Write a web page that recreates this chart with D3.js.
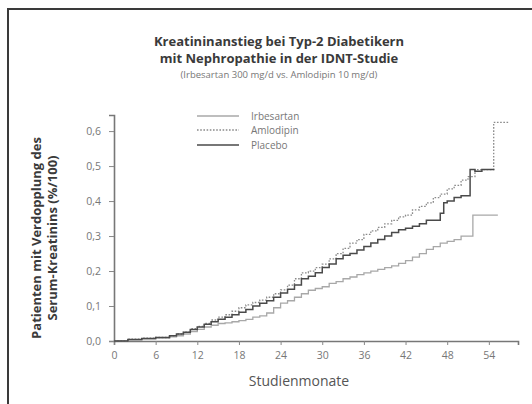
<!DOCTYPE html>
<html>
<head>
<meta charset="utf-8">
<script src="https://cdn.jsdelivr.net/npm/d3@7"></script>
<style>
    body {margin: 0; background: #fff;}
    text {font-family: "Open Sans", "Noto Sans", sans-serif;}
</style>
</head>
<body>
<div id="chart"></div>
<script>
// step curves: month -> share of patients (%/100)
const irbMonths = [0, 2, 4, 6, 8, 9, 10, 11, 12, 13, 14, 15, 16, 17, 18, 19, 20, 21, 22, 23, 24, 25, 26, 27, 28, 29, 30, 31, 32, 33, 34, 35, 36, 37, 38, 39, 40, 41, 42, 43, 44, 45, 46, 47, 48, 49, 50, 51.7, 55.3];
const irbValues = [0, 0.003, 0.006, 0.009, 0.012, 0.015, 0.02, 0.027, 0.033, 0.04, 0.045, 0.05, 0.052, 0.055, 0.058, 0.062, 0.068, 0.072, 0.08, 0.095, 0.108, 0.115, 0.125, 0.135, 0.145, 0.15, 0.155, 0.165, 0.17, 0.178, 0.183, 0.19, 0.195, 0.2, 0.205, 0.21, 0.215, 0.222, 0.23, 0.24, 0.25, 0.262, 0.27, 0.28, 0.285, 0.29, 0.3, 0.36, 0.36];

const amlMonths = [0, 2, 4, 6, 8, 9, 10, 11, 12, 13, 14, 15, 16, 17, 18, 19, 20, 21, 22, 23, 24, 25, 26, 27, 28, 29, 30, 31, 32, 33, 34, 35, 36, 37, 38, 39, 40, 41, 42, 43, 44, 45, 46, 47, 48, 49, 50, 51, 52, 54.7, 56.8];
const amlValues = [0, 0.005, 0.008, 0.01, 0.015, 0.02, 0.025, 0.035, 0.042, 0.05, 0.06, 0.068, 0.075, 0.085, 0.095, 0.103, 0.11, 0.117, 0.125, 0.135, 0.146, 0.16, 0.178, 0.195, 0.2, 0.21, 0.22, 0.235, 0.25, 0.265, 0.28, 0.29, 0.305, 0.315, 0.325, 0.335, 0.345, 0.355, 0.36, 0.375, 0.385, 0.395, 0.41, 0.42, 0.435, 0.445, 0.46, 0.47, 0.49, 0.625, 0.625];

const plaMonths = [0, 2, 4, 6, 8, 9, 10, 11, 12, 13, 14, 15, 16, 17, 18, 19, 20, 21, 22, 23, 24, 25, 26, 27, 28, 29, 30, 31, 32, 33, 34, 35, 36, 37, 38, 39, 40, 41, 42, 43, 44, 45, 46, 47, 47.5, 48, 49, 50, 51.3, 52, 53, 54.8];
const plaValues = [0, 0.004, 0.007, 0.01, 0.015, 0.02, 0.025, 0.033, 0.04, 0.048, 0.055, 0.062, 0.068, 0.075, 0.082, 0.09, 0.1, 0.108, 0.115, 0.125, 0.137, 0.148, 0.16, 0.178, 0.185, 0.195, 0.21, 0.22, 0.235, 0.245, 0.25, 0.26, 0.27, 0.28, 0.29, 0.3, 0.31, 0.318, 0.322, 0.328, 0.335, 0.345, 0.345, 0.365, 0.395, 0.4, 0.41, 0.415, 0.49, 0.485, 0.49, 0.49];

const seriesNames = ["Irbesartan", "Amlodipin", "Placebo"];
const xTicks = [0, 6, 12, 18, 24, 30, 36, 42, 48, 54];
const yTicks = [0, 0.1, 0.2, 0.3, 0.4, 0.5, 0.6];

const titleLines = ["Kreatininanstieg bei Typ-2 Diabetikern", "mit Nephropathie in der IDNT-Studie"];
const subTitle = "(Irbesartan 300 mg/d vs. Amlodipin 10 mg/d)";
const yLabelLines = ["Patienten mit Verdopplung des", "Serum-Kreatinins (%/100)"];
const xLabel = "Studienmonate";

const W = 532, H = 404;

const svg = d3.select("#chart").append("svg")
    .attr("width", W)
    .attr("height", H);

// frame, cut off at right and bottom like the scan
svg.append("rect")
    .attr("x", 8).attr("y", 9)
    .attr("width", 540).attr("height", 420)
    .attr("fill", "none")
    .attr("stroke", "#3a3a3a")
    .attr("stroke-width", 2);

const x = d3.scaleLinear().domain([0, 58.2]).range([114, 518]);
const y = d3.scaleLinear().domain([0, 0.646]).range([341, 115]);

const fmt = d3.format(".1f");

const xAxis = d3.axisBottom(x)
    .tickValues(xTicks)
    .tickSizeOuter(0)
    .tickSize(4)
    .tickPadding(7)
    .tickFormat(d3.format("d"));

const yAxis = d3.axisLeft(y)
    .tickValues(yTicks)
    .tickSizeOuter(0)
    .tickSize(5)
    .tickPadding(8)
    .tickFormat(d => fmt(d).replace(".", ","));

const gx = svg.append("g")
    .attr("transform", "translate(0," + y(0) + ")")
    .call(xAxis);
const gy = svg.append("g")
    .attr("transform", "translate(" + x(0) + ",0)")
    .call(yAxis);

[gx, gy].forEach(g => {
    g.select(".domain").attr("stroke", "#777").attr("stroke-width", 1.6);
    g.selectAll(".tick line").attr("stroke", "#888");
    g.selectAll(".tick text")
        .attr("fill", "#777")
        .style("font-size", "10.5px");
});

// curves
const line = d3.line()
    .curve(d3.curveStepAfter)
    .x(d => x(d[0]))
    .y(d => y(d[1]));

const series = [
    {name: seriesNames[0], pts: d3.zip(irbMonths, irbValues), stroke: "#a8a8a8", width: 1.3, dash: null},
    {name: seriesNames[1], pts: d3.zip(amlMonths, amlValues), stroke: "#8a8a8a", width: 1.3, dash: "1.6,1.6"},
    {name: seriesNames[2], pts: d3.zip(plaMonths, plaValues), stroke: "#4a4a4a", width: 1.5, dash: null}
];

svg.append("g")
    .selectAll("path")
    .data(series)
    .enter().append("path")
    .attr("d", d => line(d.pts))
    .attr("fill", "none")
    .attr("stroke", d => d.stroke)
    .attr("stroke-width", d => d.width)
    .attr("stroke-dasharray", d => d.dash);

// legend
const legendY = [116, 130, 145];
const legend = svg.append("g")
    .selectAll("g")
    .data(series)
    .enter().append("g")
    .attr("transform", (d, i) => "translate(197," + legendY[i] + ")");

legend.append("line")
    .attr("x1", 0).attr("x2", 42)
    .attr("stroke", d => d.stroke)
    .attr("stroke-width", d => d.width)
    .attr("stroke-dasharray", d => d.dash);

legend.append("text")
    .attr("x", 54)
    .attr("dy", "0.35em")
    .attr("fill", "#777")
    .style("font-size", "10px")
    .text(d => d.name);

// titles
svg.append("g")
    .selectAll("text")
    .data(titleLines)
    .enter().append("text")
    .attr("x", 279)
    .attr("y", (d, i) => 46 + i * 17)
    .attr("text-anchor", "middle")
    .attr("fill", "#3a3a3a")
    .style("font-size", "13px")
    .style("font-weight", "bold")
    .text(d => d);

svg.append("text")
    .attr("x", 279)
    .attr("y", 78)
    .attr("text-anchor", "middle")
    .attr("fill", "#777")
    .style("font-size", "9.5px")
    .text(subTitle);

// axis titles
svg.append("g")
    .selectAll("text")
    .data(yLabelLines)
    .enter().append("text")
    .attr("transform", (d, i) => "translate(" + (41 + i * 16) + ",238) rotate(-90)")
    .attr("text-anchor", "middle")
    .attr("fill", "#3a3a3a")
    .style("font-size", "13px")
    .style("font-weight", "bold")
    .text(d => d);

svg.append("text")
    .attr("x", 299)
    .attr("y", 386)
    .attr("text-anchor", "middle")
    .attr("fill", "#555")
    .style("font-size", "14px")
    .text(xLabel);
</script>
</body>
</html>
